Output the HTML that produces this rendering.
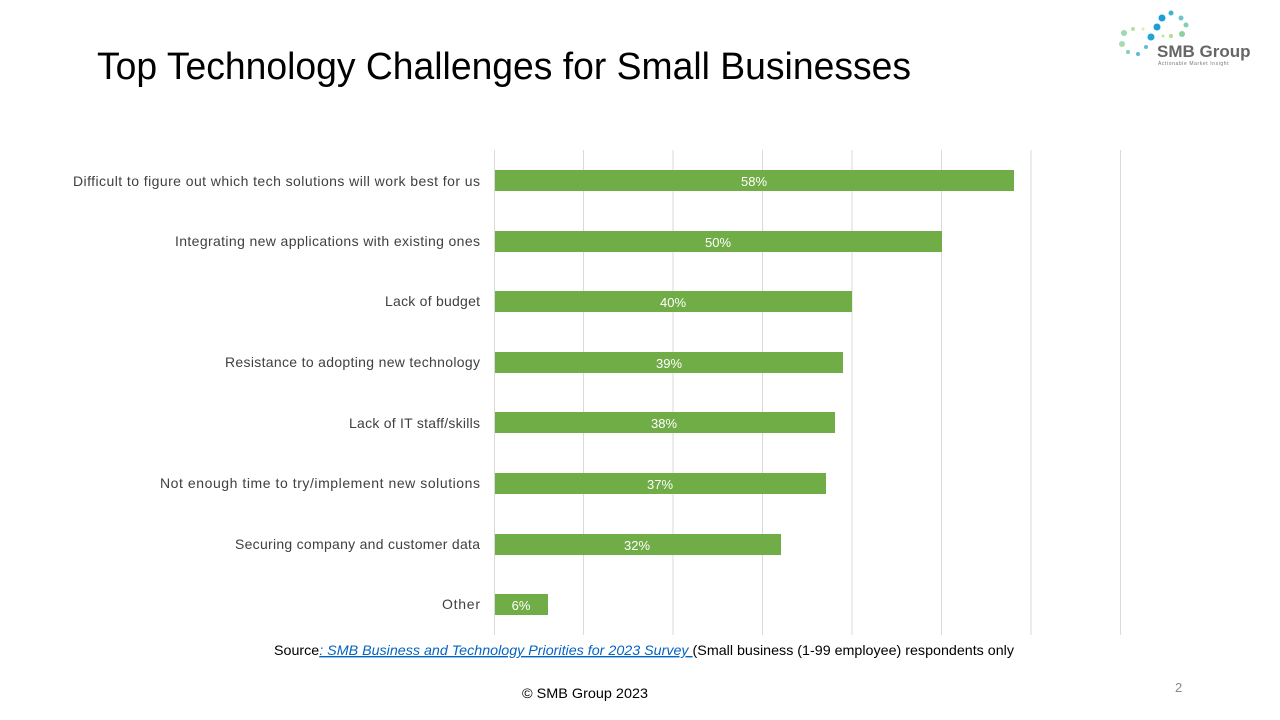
<!DOCTYPE html>
<html><head><meta charset="utf-8"><style>
html,body{margin:0;padding:0;background:#fff;}
body{width:1280px;height:720px;overflow:hidden;position:relative;font-family:"Liberation Sans",Calibri,sans-serif;}
</style></head><body>
<svg width="1280" height="720" xmlns="http://www.w3.org/2000/svg" style="position:absolute;left:0;top:0" font-family="Liberation Sans, sans-serif">
<text x="97" y="79" font-size="38" fill="#000" textLength="814" lengthAdjust="spacingAndGlyphs">Top Technology Challenges for Small Businesses</text>
<g>
<circle cx="1171" cy="13" r="2.5" fill="#3bb3d8"/>
<circle cx="1181" cy="18" r="2.5" fill="#6cc6c9"/>
<circle cx="1162" cy="18" r="3.5" fill="#1a9fd6"/>
<circle cx="1186" cy="25" r="2.5" fill="#7fcfb5"/>
<circle cx="1157" cy="27" r="3.5" fill="#1a9fd6"/>
<circle cx="1182" cy="34" r="3" fill="#8bd1a0"/>
<circle cx="1151" cy="37" r="3.5" fill="#1fa5d6"/>
<circle cx="1163" cy="36" r="1.5" fill="#c6e59b"/>
<circle cx="1171" cy="36" r="2" fill="#b5dd90"/>
<circle cx="1133" cy="29" r="2" fill="#b8e0a0"/>
<circle cx="1143" cy="29" r="1.5" fill="#d6eeb0"/>
<circle cx="1124" cy="33" r="3" fill="#9cd8b0"/>
<circle cx="1122" cy="44" r="3" fill="#a8dcae"/>
<circle cx="1146" cy="47" r="2" fill="#5fbfd0"/>
<circle cx="1128" cy="52" r="2" fill="#7ccfc0"/>
<circle cx="1138" cy="54" r="2" fill="#5bbcd0"/>
<text x="1157" y="57" font-size="17" font-weight="bold" fill="#666">SMB Group</text>
<text x="1158" y="65" font-size="5" fill="#777" letter-spacing="0.6">Actionable Market Insight</text>
</g>
<g stroke="#d9d9d9" stroke-width="1">
<line x1="583.5" y1="150" x2="583.5" y2="635"/>
<line x1="673" y1="150" x2="673" y2="635"/>
<line x1="762.5" y1="150" x2="762.5" y2="635"/>
<line x1="852" y1="150" x2="852" y2="635"/>
<line x1="941.5" y1="150" x2="941.5" y2="635"/>
<line x1="1031" y1="150" x2="1031" y2="635"/>
<line x1="1120.5" y1="150" x2="1120.5" y2="635"/>
<line x1="494.5" y1="150" x2="494.5" y2="635"/>
</g>
<g fill="#70ad47">
<rect x="495" y="170" width="519" height="21"/>
<rect x="495" y="231" width="447" height="21"/>
<rect x="495" y="291" width="357" height="21"/>
<rect x="495" y="352" width="348" height="21"/>
<rect x="495" y="412" width="340" height="21"/>
<rect x="495" y="473" width="331" height="21"/>
<rect x="495" y="534" width="286" height="21"/>
<rect x="495" y="594" width="53" height="21"/>
</g>
<g fill="#fff" font-size="13" text-anchor="middle">
<text x="754" y="186">58%</text>
<text x="718" y="247">50%</text>
<text x="673" y="307">40%</text>
<text x="669" y="368">39%</text>
<text x="664" y="428">38%</text>
<text x="660" y="489">37%</text>
<text x="637" y="550">32%</text>
<text x="521" y="610">6%</text>
</g>
<g fill="#404040" font-size="14" lengthAdjust="spacingAndGlyphs">
<text x="73" y="186" textLength="407">Difficult to figure out which tech solutions will work best for us</text>
<text x="175" y="246" textLength="305">Integrating new applications with existing ones</text>
<text x="385" y="306" textLength="95">Lack of budget</text>
<text x="225" y="367" textLength="255">Resistance to adopting new technology</text>
<text x="349" y="428" textLength="131">Lack of IT staff/skills</text>
<text x="160" y="488" textLength="320">Not enough time to try/implement new solutions</text>
<text x="235" y="549" textLength="245">Securing company and customer data</text>
<text x="442" y="609" textLength="38">Other</text>
</g>
<text x="274" y="655" font-size="14" fill="#000" textLength="740" lengthAdjust="spacingAndGlyphs">Source<tspan fill="#0563c1" font-style="italic" text-decoration="underline">: SMB Business and Technology Priorities for 2023 Survey </tspan>(Small business (1-99 employee) respondents only</text>
<text x="522" y="698" font-size="14" fill="#000" textLength="126" lengthAdjust="spacingAndGlyphs">© SMB Group  2023</text>
<text x="1175" y="692" font-size="13" fill="#888">2</text>
</svg>
</body></html>
